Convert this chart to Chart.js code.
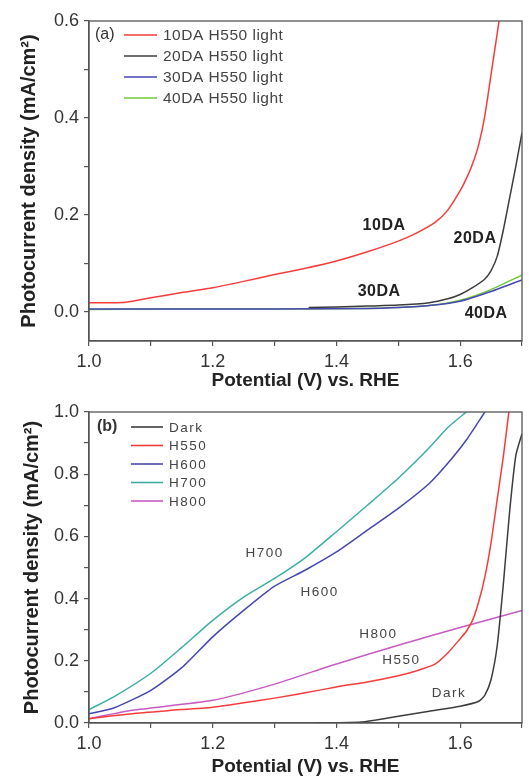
<!DOCTYPE html>
<html>
<head>
<meta charset="utf-8">
<script src="https://cdn.jsdelivr.net/npm/chart.js@4"></script>
<style>
  html, body { margin: 0; padding: 0; background: #fff; }
  .wrap { position: absolute; left: 0; width: 529px; }
</style>
</head>
<body>
<div class="wrap" style="top:0;height:390px"><canvas id="ca" width="529" height="390"></canvas></div>
<div class="wrap" style="top:390px;height:386px"><canvas id="cb" width="529" height="386"></canvas></div>
<script>
// panel (a) series
const a10x = [1.0, 1.03, 1.06, 1.1, 1.15, 1.2, 1.25, 1.3, 1.35, 1.4, 1.45, 1.5, 1.53, 1.56, 1.58, 1.6, 1.61, 1.62, 1.63, 1.64, 1.65, 1.66, 1.665];
const a10y = [0.019, 0.019, 0.02, 0.029, 0.04, 0.05, 0.063, 0.077, 0.09, 0.105, 0.124, 0.146, 0.163, 0.185, 0.21, 0.25, 0.275, 0.305, 0.345, 0.405, 0.49, 0.575, 0.62];
const a20x = [1.355, 1.4, 1.45, 1.5, 1.55, 1.58, 1.6, 1.62, 1.64, 1.65, 1.66, 1.67, 1.68, 1.69, 1.7];
const a20y = [0.009, 0.01, 0.012, 0.014, 0.019, 0.027, 0.036, 0.05, 0.068, 0.085, 0.115, 0.17, 0.235, 0.30, 0.37];
const a30x = [1.0, 1.12, 1.3, 1.45, 1.5, 1.55, 1.6, 1.65, 1.7];
const a30y = [0.006, 0.006, 0.006, 0.007, 0.009, 0.013, 0.022, 0.042, 0.066];
const a40x = [1.0, 1.12, 1.3, 1.45, 1.5, 1.55, 1.6, 1.65, 1.7];
const a40y = [0.005, 0.006, 0.006, 0.007, 0.009, 0.013, 0.024, 0.046, 0.076];
const aNames = ['10DA H550 light', '20DA H550 light', '30DA H550 light', '40DA H550 light'];

// panel (b) series
const darkX = [1.365, 1.44, 1.5, 1.55, 1.6, 1.63, 1.64, 1.65, 1.66, 1.67, 1.68, 1.69, 1.7];
const darkY = [0.0, 0.003, 0.022, 0.038, 0.054, 0.07, 0.09, 0.14, 0.25, 0.45, 0.68, 0.86, 0.93];
const h550x = [1.0, 1.07, 1.13, 1.2, 1.25, 1.3, 1.35, 1.4, 1.45, 1.5, 1.53, 1.56, 1.58, 1.6, 1.61, 1.62, 1.63, 1.64, 1.65, 1.66, 1.67, 1.68];
const h550y = [0.014, 0.03, 0.04, 0.051, 0.065, 0.08, 0.097, 0.116, 0.132, 0.152, 0.168, 0.19, 0.225, 0.271, 0.295, 0.33, 0.39, 0.47, 0.58, 0.72, 0.86, 1.02];
const h600x = [1.0, 1.04, 1.1, 1.15, 1.2, 1.25, 1.3, 1.35, 1.4, 1.45, 1.5, 1.55, 1.58, 1.61, 1.64];
const h600y = [0.03, 0.048, 0.105, 0.178, 0.277, 0.362, 0.44, 0.492, 0.55, 0.62, 0.69, 0.77, 0.835, 0.91, 1.0];
const h700x = [1.0, 1.04, 1.1, 1.15, 1.2, 1.25, 1.3, 1.35, 1.4, 1.45, 1.5, 1.55, 1.58, 1.61];
const h700y = [0.043, 0.084, 0.16, 0.243, 0.33, 0.405, 0.465, 0.532, 0.615, 0.70, 0.787, 0.885, 0.95, 1.0];
const h800x = [1.0, 1.07, 1.2, 1.3, 1.4, 1.5, 1.6, 1.7];
const h800y = [0.014, 0.041, 0.073, 0.125, 0.19, 0.25, 0.307, 0.362];
const bNames = ['Dark', 'H550', 'H600', 'H700', 'H800'];

// ticks
const xTicks = [1.0, 1.1, 1.2, 1.3, 1.4, 1.5, 1.6, 1.7];
const xLabels = ['1.0', '', '1.2', '', '1.4', '', '1.6', ''];
const yTicksA = [0.0, 0.1, 0.2, 0.3, 0.4, 0.5, 0.6];
const yLabelsA = ['0.0', '', '0.2', '', '0.4', '', '0.6'];
const yTicksB = [0.0, 0.1, 0.2, 0.3, 0.4, 0.5, 0.6, 0.7, 0.8, 0.9, 1.0];
const yLabelsB = ['0.0', '', '0.2', '', '0.4', '', '0.6', '', '0.8', '', '1.0'];

// curve labels inside the plots [text, x, y]
const aNotes = [['10DA', 1.477, 0.179], ['20DA', 1.624, 0.152], ['30DA', 1.469, 0.041], ['40DA', 1.642, -0.004]];
const bNotes = [['H700', 1.284, 0.545], ['H600', 1.373, 0.42], ['H800', 1.468, 0.285], ['H550', 1.505, 0.201], ['Dark', 1.582, 0.095]];

const pts = (xs, ys) => xs.map((x, i) => ({ x: x, y: ys[i] }));

function line(label, xs, ys, color, w) {
    return {
        label: label,
        data: pts(xs, ys),
        borderColor: color,
        backgroundColor: color,
        borderWidth: w || 1.5,
        pointRadius: 0,
        showLine: true,
        tension: 0.2,
    };
}

const FONT = "'Liberation Sans', Arial, sans-serif";

// frame, legend, notes
const extras = {
    id: 'extras',
    afterDraw(chart, args, opts) {
        const ctx = chart.ctx;
        const a = chart.chartArea;
        const sx = chart.scales.x, sy = chart.scales.y;
        ctx.save();
        ctx.strokeStyle = '#555';
        ctx.lineWidth = 1.3;
        ctx.strokeRect(a.left, a.top, a.right - a.left, a.bottom - a.top);

        // legend
        ctx.font = opts.tagFont;
        ctx.fillStyle = '#333';
        ctx.textBaseline = 'middle';
        ctx.textAlign = 'left';
        ctx.fillText(opts.tag, a.left + opts.tagDx, a.top + opts.legTop);
        ctx.font = opts.legFont;
        chart.data.datasets.forEach((ds, i) => {
            const y = a.top + opts.legTop + i * opts.legGap;
            ctx.strokeStyle = ds.borderColor;
            ctx.lineWidth = 1.6;
            ctx.beginPath();
            ctx.moveTo(a.left + opts.legX0, y);
            ctx.lineTo(a.left + opts.legX1, y);
            ctx.stroke();
            ctx.fillStyle = '#444';
            if (opts.spacing) ctx.letterSpacing = opts.spacing;
            ctx.fillText(ds.label, a.left + opts.legX1 + 6, y + 1);
            ctx.letterSpacing = '0px';
        });

        // notes
        ctx.font = opts.noteFont;
        ctx.fillStyle = opts.noteColor;
        ctx.textAlign = 'center';
        if (opts.spacing) ctx.letterSpacing = opts.spacing;
        opts.notes.forEach(n => {
            ctx.fillText(n[0], sx.getPixelForValue(n[1]), sy.getPixelForValue(n[2]));
        });
        ctx.restore();
    }
};

function options(yMin, yMax, yTicks, yLabels, plugin, pad, xH, yTitlePad) {
    return {
        responsive: false,
        animation: false,
        layout: { padding: { top: pad.top, right: pad.right, left: 0, bottom: 0 } },
        plugins: { legend: { display: false }, tooltip: { enabled: false }, extras: plugin },
        scales: {
            x: {
                type: 'linear', min: 1.0, max: 1.7,
                afterBuildTicks: s => { s.ticks = xTicks.map(v => ({ value: v })); },
                afterFit: s => { s.height = xH; },
                ticks: {
                    autoSkip: false, maxRotation: 0, padding: 5,
                    color: '#333', font: { family: FONT, size: 18 },
                    callback: (v, i) => xLabels[i],
                },
                grid: { drawOnChartArea: false, tickLength: 5, color: '#555', lineWidth: 1.2 },
                border: { color: '#555', width: 1.3 },
                title: {
                    display: true, text: 'Potential (V) vs. RHE', color: '#222',
                    font: { family: FONT, size: 19, weight: 'bold', lineHeight: 1.0 }, padding: 0,
                },
            },
            y: {
                type: 'linear', min: yMin, max: yMax,
                afterBuildTicks: s => { s.ticks = yTicks.map(v => ({ value: v })); },
                afterFit: s => { s.width = 89; },
                ticks: {
                    autoSkip: false, padding: 5,
                    color: '#333', font: { family: FONT, size: 18 },
                    callback: (v, i) => yLabels[i],
                },
                grid: { drawOnChartArea: false, tickLength: 5, color: '#555', lineWidth: 1.2 },
                border: { color: '#555', width: 1.3 },
                title: {
                    display: true, text: 'Photocurrent density (mA/cm²)', color: '#222',
                    font: { family: FONT, size: 20, weight: 'bold' }, padding: { top: yTitlePad },
                },
            },
        },
    };
}

new Chart(document.getElementById('ca').getContext('2d'), {
    type: 'scatter',
    data: {
        datasets: [
            line(aNames[0], a10x, a10y, 'rgb(245,60,60)'),
            line(aNames[1], a20x, a20y, 'rgb(60,60,60)'),
            line(aNames[2], a30x, a30y, 'rgb(70,70,180)'),
            line(aNames[3], a40x, a40y, 'rgb(110,200,60)'),
        ],
    },
    options: options(-0.06, 0.6, yTicksA, yLabelsA, {
        tag: '(a)', tagFont: '16px ' + FONT, tagDx: 6,
        legTop: 14, legGap: 21, legX0: 35, legX1: 68,
        legFont: '15.5px ' + FONT, spacing: '0.5px',
        noteFont: 'bold 16px ' + FONT, noteColor: '#222', notes: aNotes,
    }, { top: 21, right: 7 }, 49, 17),
    plugins: [extras],
});

new Chart(document.getElementById('cb').getContext('2d'), {
    type: 'scatter',
    data: {
        datasets: [
            line(bNames[0], darkX, darkY, 'rgb(60,60,60)'),
            line(bNames[1], h550x, h550y, 'rgb(245,60,60)'),
            line(bNames[2], h600x, h600y, 'rgb(70,70,175)'),
            line(bNames[3], h700x, h700y, 'rgb(60,175,165)'),
            line(bNames[4], h800x, h800y, 'rgb(200,90,195)'),
        ],
    },
    options: options(0, 1.0, yTicksB, yLabelsB, {
        tag: '(b)', tagFont: 'bold 16px ' + FONT, tagDx: 8,
        legTop: 15, legGap: 18.5, legX0: 42, legX1: 74,
        legFont: '13.5px ' + FONT, spacing: '1.5px',
        noteFont: '13.5px ' + FONT, noteColor: '#444', notes: bNotes,
    }, { top: 22, right: 7 }, 53, 20),
    plugins: [extras],
});
</script>
</body>
</html>
